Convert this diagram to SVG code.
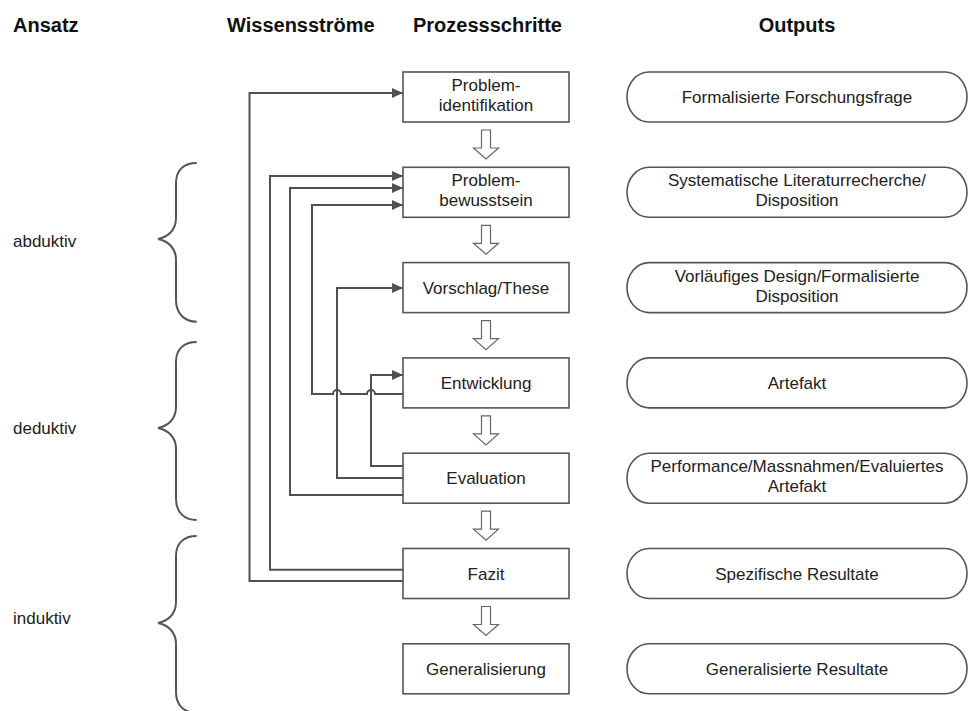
<svg xmlns="http://www.w3.org/2000/svg" width="971" height="711" viewBox="0 0 971 711">
<defs>
<style>
.hdr{font-family:"Liberation Sans",Arial,sans-serif;font-weight:bold;font-size:20px;fill:#111}
.t{font-family:"Liberation Sans",Arial,sans-serif;font-size:17px;fill:#222}
.tm{text-anchor:middle}
.box{fill:#fff;stroke:#555;stroke-width:1.6}
.con{fill:none;stroke:#505050;stroke-width:2}
.brace{fill:none;stroke:#555;stroke-width:2}
.hol{fill:#fff;stroke:#666;stroke-width:1.2}
</style>
<marker id="ah" markerUnits="userSpaceOnUse" markerWidth="12" markerHeight="10" refX="11" refY="5" orient="auto">
<path d="M0,0 L11,5 L0,10 z" fill="#505050"/>
</marker>
<path id="hollow" class="hol" d="M-4.5,0 H4.5 V18 H12.5 L0,29 L-12.5,18 H-4.5 Z"/>
</defs>
<rect width="971" height="711" fill="#fff"/>

<g id="headers">
<text class="hdr" x="13" y="32">Ansatz</text>
<text class="hdr" x="227" y="32">Wissensströme</text>
<text class="hdr" x="413" y="32">Prozessschritte</text>
<text class="hdr tm" x="797" y="32">Outputs</text>
</g>

<g id="approach">
<g id="abduktiv">
<path class="brace" d="M196.7,163 C184,163 176,170 176,183 L176,218 C176,230 168,237 158,239 C168,241 176,248 176,260 L176,300 C176,313 184,321.7 196.7,321.7"/>
<text class="t" x="13" y="247">abduktiv</text>
</g>
<g id="deduktiv">
<path class="brace" d="M196.7,342 C184,342 176,349 176,362 L176,407 C176,419 168,426 158,428 C168,430 176,437 176,449 L176,499 C176,512 184,520 196.7,520"/>
<text class="t" x="13" y="434">deduktiv</text>
</g>
<g id="induktiv">
<path class="brace" d="M196.7,536 C184,536 176,543 176,556 L176,602 C176,614 168,621 158,623 C168,625 176,632 176,644 L176,692 C176,705 184,713 196.7,713"/>
<text class="t" x="13" y="624">induktiv</text>
</g>
</g>

<g id="connectors">
<path class="con" marker-end="url(#ah)" d="M403,581 H249.5 V93 H403"/>
<path class="con" marker-end="url(#ah)" d="M403,569.7 H270 V176 H403"/>
<path class="con" marker-end="url(#ah)" d="M403,495 H290 V188 H403"/>
<path class="con" marker-end="url(#ah)" d="M403,394 H375 A4,4 0 0 0 367,394 H341 A4,4 0 0 0 333,394 H312 V205 H403"/>
<path class="con" marker-end="url(#ah)" d="M403,478 H337 V288 H403"/>
<path class="con" marker-end="url(#ah)" d="M403,466 H371 V375 H403"/>
</g>

<g id="flow-arrows">
<use href="#hollow" x="486" y="130"/>
<use href="#hollow" x="486" y="225.3"/>
<use href="#hollow" x="486" y="320.6"/>
<use href="#hollow" x="486" y="415.9"/>
<use href="#hollow" x="486" y="511.2"/>
<use href="#hollow" x="486" y="606.5"/>
</g>

<g id="step-problemidentifikation">
<rect class="box" x="403" y="72" width="166" height="50"/>
<text class="t tm" x="486" y="91">Problem-</text>
<text class="t tm" x="486" y="111">identifikation</text>
</g>
<g id="step-problembewusstsein">
<rect class="box" x="403" y="167.3" width="166" height="50"/>
<text class="t tm" x="486" y="186.3">Problem-</text>
<text class="t tm" x="486" y="206.3">bewusstsein</text>
</g>
<g id="step-vorschlag">
<rect class="box" x="403" y="262.6" width="166" height="50"/>
<text class="t tm" x="486" y="293.6">Vorschlag/These</text>
</g>
<g id="step-entwicklung">
<rect class="box" x="403" y="357.9" width="166" height="50"/>
<text class="t tm" x="486" y="388.9">Entwicklung</text>
</g>
<g id="step-evaluation">
<rect class="box" x="403" y="453.2" width="166" height="50"/>
<text class="t tm" x="486" y="484.2">Evaluation</text>
</g>
<g id="step-fazit">
<rect class="box" x="403" y="548.5" width="166" height="50"/>
<text class="t tm" x="486" y="579.5">Fazit</text>
</g>
<g id="step-generalisierung">
<rect class="box" x="403" y="643.8" width="166" height="50"/>
<text class="t tm" x="486" y="674.8">Generalisierung</text>
</g>

<g id="out-1">
<rect class="box" x="627" y="72" width="340" height="50" rx="22" ry="25"/>
<text class="t tm" x="797" y="103">Formalisierte Forschungsfrage</text>
</g>
<g id="out-2">
<rect class="box" x="627" y="167.3" width="340" height="50" rx="22" ry="25"/>
<text class="t tm" x="797" y="186.3">Systematische Literaturrecherche/</text>
<text class="t tm" x="797" y="206.3">Disposition</text>
</g>
<g id="out-3">
<rect class="box" x="627" y="262.6" width="340" height="50" rx="22" ry="25"/>
<text class="t tm" x="797" y="281.6">Vorläufiges Design/Formalisierte</text>
<text class="t tm" x="797" y="301.6">Disposition</text>
</g>
<g id="out-4">
<rect class="box" x="627" y="357.9" width="340" height="50" rx="22" ry="25"/>
<text class="t tm" x="797" y="388.9">Artefakt</text>
</g>
<g id="out-5">
<rect class="box" x="627" y="453.2" width="340" height="50" rx="22" ry="25"/>
<text class="t tm" x="797" y="472.2">Performance/Massnahmen/Evaluiertes</text>
<text class="t tm" x="797" y="492.2">Artefakt</text>
</g>
<g id="out-6">
<rect class="box" x="627" y="548.5" width="340" height="50" rx="22" ry="25"/>
<text class="t tm" x="797" y="579.5">Spezifische Resultate</text>
</g>
<g id="out-7">
<rect class="box" x="627" y="643.8" width="340" height="50" rx="22" ry="25"/>
<text class="t tm" x="797" y="674.8">Generalisierte Resultate</text>
</g>
</svg>
